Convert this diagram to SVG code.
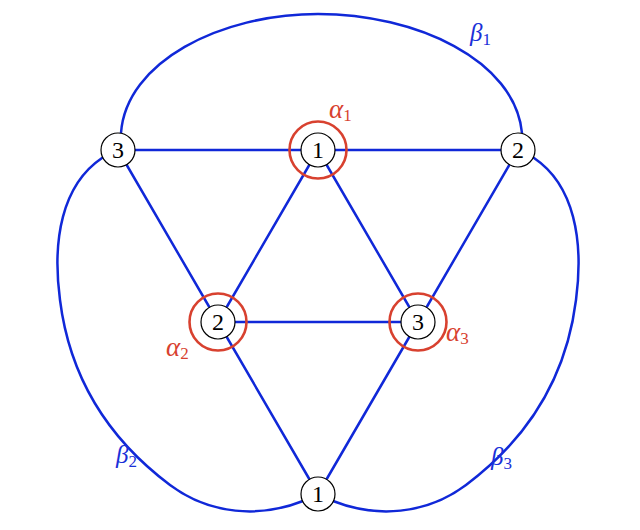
<svg xmlns="http://www.w3.org/2000/svg" width="640" height="530" viewBox="0 0 640 530">
<style>
.e{fill:none;stroke:#1028d8;stroke-width:2.5;stroke-linecap:round}
.a{fill:none;stroke:#d8412f;stroke-width:2.6}
.n{fill:#fff;stroke:#000;stroke-width:1.2}
.t{font-family:"Liberation Serif","DejaVu Serif",serif;font-size:24px;fill:#000;text-anchor:middle}
.la{font-family:"Liberation Serif","DejaVu Serif",serif;font-size:27px;fill:#d8412f;font-style:italic}
.lb{font-family:"Liberation Serif","DejaVu Serif",serif;font-size:25px;fill:#1a30d8;font-style:italic}
.s{font-size:17px;font-style:normal}
</style>
<rect width="640" height="530" fill="#fff"/>
<g id="connectors">
<path class="e" d="M118,150 H518"/>
<path class="e" d="M218,322 H418"/>
<path class="e" d="M118,150 L218,322 L318,494"/>
<path class="e" d="M318,150 L218,322"/>
<path class="e" d="M318,150 L418,322"/>
<path class="e" d="M518,150 L418,322 L318,494"/>
<path id="beta1" class="e" d="M121,133 C126,62 220,14 318,14 C416,14 515,60 522,133"/>
<path id="beta2" class="e" d="M102,158 C62,185 52,240 60,300 C70,380 110,440 170,485 C210,515 260,518 303,501"/>
<path id="beta3" class="e" d="M534,158 C574,185 584,240 576,300 C566,380 526,440 466,485 C426,515 376,518 333,501"/>
</g>
<g id="alpha1"><circle class="a" cx="318" cy="150" r="28.5"/></g>
<g id="alpha2"><circle class="a" cx="218" cy="322" r="28.5"/></g>
<g id="alpha3"><circle class="a" cx="418" cy="322" r="28.5"/></g>
<g id="n_top"><circle class="n" cx="318" cy="150" r="17"/><text class="t" x="318" y="158">1</text></g>
<g id="n_left"><circle class="n" cx="118" cy="150" r="17"/><text class="t" x="118" y="158">3</text></g>
<g id="n_right"><circle class="n" cx="518" cy="150" r="17"/><text class="t" x="518" y="158">2</text></g>
<g id="n_midleft"><circle class="n" cx="218" cy="322" r="17"/><text class="t" x="218" y="330">2</text></g>
<g id="n_midright"><circle class="n" cx="418" cy="322" r="17"/><text class="t" x="418" y="330">3</text></g>
<g id="n_bottom"><circle class="n" cx="318" cy="494" r="17"/><text class="t" x="318" y="502">1</text></g>
<g id="labels">
<text class="la" x="329" y="118">α<tspan class="s" dy="3">1</tspan></text>
<text class="la" x="166" y="356">α<tspan class="s" dy="3">2</tspan></text>
<text class="la" x="446" y="341">α<tspan class="s" dy="3">3</tspan></text>
<text class="lb" x="470" y="41">β<tspan class="s" dy="4">1</tspan></text>
<text class="lb" x="116" y="463">β<tspan class="s" dy="4">2</tspan></text>
<text class="lb" x="491" y="465">β<tspan class="s" dy="4">3</tspan></text>
</g>
</svg>
